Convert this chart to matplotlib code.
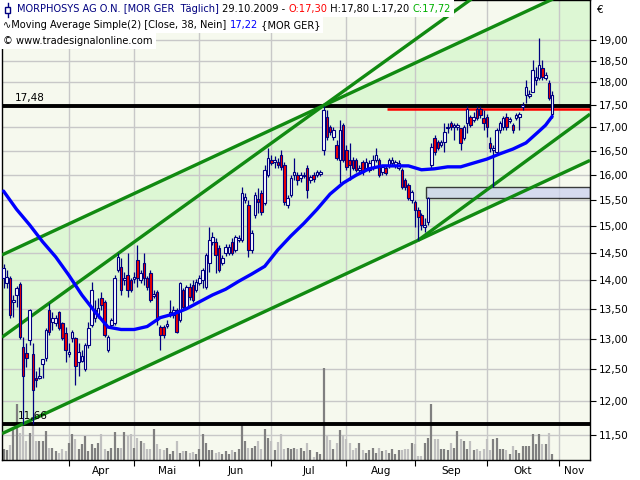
import matplotlib
matplotlib.use("Agg")
import matplotlib.pyplot as plt
import numpy as np
import pandas as pd
from matplotlib.patches import Rectangle
from matplotlib.lines import Line2D
from matplotlib.ticker import FixedLocator, NullLocator, FuncFormatter

plt.rcParams["font.family"] = ["DejaVu Sans"]

# trading days shown (Xetra, 2009)
holidays = ["2009-04-10", "2009-04-13", "2009-05-01"]
all_days = pd.bdate_range("2009-03-04", "2009-11-30").drop(pd.to_datetime(holidays))
n_days = 169  # 04.03.2009 .. 29.10.2009

opens = [
    14.04, 13.95, 14.04, 13.62, 13.74, 13.93, 12.86, 12.76, 12.97, 12.75,
    12.37, 12.37, 12.59, 12.69, 13.48, 13.28, 13.26, 13.45, 13.26, 13.09,
    12.75, 13.01, 13.01, 12.61, 12.64, 12.51, 12.89, 13.22, 13.35, 13.40,
    13.69, 13.62, 12.81, 13.22, 13.26, 14.18, 14.24, 14.00, 14.09, 14.00,
    14.02, 14.36, 14.00, 14.31, 14.04, 14.13, 13.72, 13.79, 13.19, 13.19,
    13.21, 13.41, 13.40, 13.48, 13.31, 13.83, 13.53, 13.88, 13.91, 13.83,
    13.95, 14.00, 13.88, 14.31, 14.70, 14.70, 14.58, 14.31, 14.49, 14.49,
    14.70, 14.55, 14.73, 14.73, 15.50, 15.40, 14.55, 15.21, 15.52, 15.64,
    15.44, 16.00, 16.31, 16.27, 16.27, 16.42, 16.21, 15.40, 15.60, 16.00,
    16.00, 15.94, 15.98, 16.15, 15.90, 16.00, 16.00, 16.02, 16.52, 17.23,
    17.01, 16.79, 16.63, 16.31, 17.05, 16.52, 16.31, 16.31, 16.31, 16.11,
    16.27, 16.15, 16.11, 16.17, 16.31, 16.31, 16.06, 16.15, 16.21, 16.25,
    16.21, 16.15, 16.11, 15.90, 15.80, 15.50, 15.46, 15.30, 15.21, 14.98,
    15.07, 16.21, 16.77, 16.69, 16.63, 16.69, 16.98, 17.10, 17.01, 17.01,
    16.98, 16.77, 17.10, 17.23, 17.16, 17.40, 17.40, 17.20, 17.23, 16.67,
    16.52, 16.48, 16.94, 17.01, 17.23, 17.14, 17.05, 17.20, 17.23, 17.45,
    17.71, 17.69, 17.78, 18.06, 18.10, 18.34, 18.10, 17.99, 17.30,
]
highs = [
    14.29, 14.18, 14.07, 13.74, 13.89, 13.96, 13.03, 12.92, 13.50, 12.92,
    12.48, 12.53, 12.67, 13.17, 13.60, 13.45, 13.40, 13.46, 13.28, 13.19,
    12.92, 13.14, 13.03, 12.92, 12.81, 12.92, 13.28, 13.96, 13.65, 13.69,
    13.79, 13.65, 13.06, 13.35, 14.09, 14.49, 14.40, 14.15, 14.49, 14.04,
    14.15, 14.64, 14.18, 14.49, 14.07, 14.18, 13.83, 13.83, 13.22, 13.22,
    13.31, 13.65, 13.55, 13.52, 13.96, 13.86, 13.91, 13.95, 14.00, 14.02,
    14.09, 14.22, 14.49, 14.98, 14.88, 14.77, 14.64, 14.46, 14.66, 14.66,
    14.77, 14.83, 14.83, 15.76, 15.64, 15.50, 14.92, 15.66, 15.74, 15.70,
    16.21, 16.57, 16.42, 16.40, 16.36, 16.52, 16.27, 15.60, 16.00, 16.36,
    16.06, 16.06, 16.06, 16.21, 16.00, 16.06, 16.11, 16.11, 17.48, 17.38,
    17.05, 17.01, 16.73, 17.16, 17.10, 16.63, 16.67, 16.38, 16.36, 16.21,
    16.31, 16.36, 16.31, 16.42, 16.57, 16.36, 16.21, 16.19, 16.36, 16.38,
    16.31, 16.31, 16.15, 15.94, 15.84, 15.70, 15.50, 15.36, 15.25, 15.15,
    15.56, 16.67, 16.84, 16.73, 16.73, 17.10, 17.10, 17.14, 17.10, 17.10,
    16.98, 17.05, 17.47, 17.27, 17.34, 17.47, 17.47, 17.38, 17.29, 16.79,
    16.63, 16.98, 17.14, 17.25, 17.31, 17.23, 17.10, 17.31, 17.34, 17.56,
    18.06, 17.83, 18.52, 18.36, 19.05, 18.52, 18.24, 18.06, 17.80,
]
lows = [
    13.86, 13.86, 13.35, 13.36, 13.54, 12.99, 11.66, 12.53, 12.89, 11.66,
    12.22, 12.35, 12.37, 12.64, 13.06, 13.14, 13.21, 13.14, 12.97, 12.61,
    12.70, 12.94, 12.25, 12.40, 12.61, 12.48, 12.84, 13.19, 13.28, 13.35,
    13.48, 13.03, 12.78, 13.19, 13.22, 14.15, 13.74, 13.91, 13.71, 13.79,
    13.95, 13.88, 13.95, 13.91, 13.83, 13.62, 13.69, 13.22, 12.81, 13.01,
    13.17, 13.36, 13.35, 13.09, 13.28, 13.48, 13.50, 13.65, 13.62, 13.79,
    13.91, 13.86, 13.84, 14.15, 14.64, 14.13, 14.15, 14.27, 14.44, 14.46,
    14.46, 14.51, 14.70, 14.70, 15.44, 14.42, 14.49, 15.15, 15.25, 15.21,
    15.40, 15.96, 16.21, 16.15, 16.15, 16.11, 15.40, 15.34, 15.56, 15.90,
    15.80, 15.86, 15.94, 15.54, 15.84, 15.86, 15.96, 15.98, 16.42, 16.73,
    16.84, 16.73, 16.31, 15.84, 16.27, 16.11, 15.90, 16.11, 16.06, 16.06,
    16.00, 16.11, 16.06, 16.11, 16.27, 15.96, 16.00, 16.00, 16.15, 16.21,
    16.15, 16.11, 15.72, 15.70, 15.50, 15.44, 14.98, 14.73, 14.92, 14.89,
    15.02, 16.15, 16.42, 16.52, 16.59, 16.48, 16.88, 16.94, 16.73, 16.94,
    16.52, 16.73, 16.88, 17.01, 17.12, 17.16, 17.20, 16.94, 16.79, 16.48,
    15.76, 16.42, 16.88, 16.94, 16.94, 17.10, 16.88, 17.16, 16.94, 17.38,
    17.54, 17.65, 17.78, 17.94, 18.06, 18.06, 18.06, 17.60, 17.20,
]
closes = [
    14.22, 14.05, 13.40, 13.65, 13.86, 13.03, 12.40, 12.68, 13.48, 12.17,
    12.33, 12.40, 12.66, 13.14, 13.10, 13.35, 13.35, 13.17, 13.01, 12.81,
    12.78, 13.10, 12.56, 12.78, 12.71, 12.89, 13.17, 13.83, 13.48, 13.52,
    13.57, 13.06, 13.03, 13.31, 14.04, 14.42, 13.83, 14.04, 13.83, 13.83,
    14.05, 14.04, 14.13, 14.04, 13.88, 13.65, 13.76, 13.31, 13.06, 13.06,
    13.24, 13.45, 13.48, 13.10, 13.95, 13.53, 13.88, 13.71, 13.65, 13.96,
    14.04, 14.18, 14.46, 14.73, 14.79, 14.46, 14.18, 14.40, 14.60, 14.60,
    14.49, 14.79, 14.77, 15.64, 15.56, 14.55, 14.87, 15.60, 15.46, 15.26,
    16.11, 16.36, 16.25, 16.31, 16.21, 16.17, 15.46, 15.54, 15.94, 16.06,
    15.90, 16.00, 16.00, 15.70, 15.96, 15.92, 16.06, 16.06, 17.38, 16.79,
    16.90, 16.94, 16.36, 16.94, 16.31, 16.17, 16.21, 16.15, 16.11, 16.15,
    16.06, 16.27, 16.25, 16.31, 16.42, 16.00, 16.17, 16.04, 16.31, 16.31,
    16.27, 16.25, 15.76, 15.76, 15.54, 15.66, 15.30, 15.17, 15.02, 15.02,
    15.54, 16.59, 16.48, 16.57, 16.69, 16.90, 17.01, 17.01, 17.05, 17.05,
    16.67, 17.01, 17.40, 17.05, 17.23, 17.20, 17.27, 17.10, 17.01, 16.57,
    16.57, 16.94, 17.10, 17.20, 17.01, 17.18, 16.94, 17.27, 17.29, 17.49,
    17.89, 17.73, 18.29, 18.12, 18.41, 18.12, 18.17, 17.65, 17.72,
]
# volume, thousand shares
volume = [
    110, 100, 150, 310, 560, 270, 370, 190, 270, 370,
    190, 190, 190, 290, 120, 120, 90, 70, 110, 90,
    170, 260, 210, 110, 160, 240, 90, 160, 120, 170,
    260, 110, 90, 120, 280, 120, 120, 280, 240, 260,
    120, 220, 190, 170, 110, 110, 310, 160, 110, 100,
    120, 60, 90, 190, 70, 90, 90, 70, 80, 60,
    110, 260, 170, 100, 100, 70, 80, 60, 90, 60,
    100, 80, 110, 360, 190, 120, 120, 140, 190, 110,
    310, 220, 190, 100, 180, 260, 110, 120, 110, 120,
    110, 120, 90, 170, 100, 30, 80, 60, 920, 240,
    200, 110, 170, 300, 250, 210, 170, 100, 120, 170,
    100, 70, 100, 120, 70, 120, 90, 100, 70, 110,
    60, 100, 100, 110, 110, 170, 160, 40, 40, 170,
    220, 560, 210, 210, 110, 110, 100, 170, 120, 290,
    210, 190, 110, 190, 100, 110, 90, 110, 210, 100,
    210, 220, 110, 110, 100, 60, 140, 100, 70, 140,
    140, 140, 260, 160, 260, 160, 160, 270, 60,
]

# Moving Average Simple(2) [Close, 38]
ma_idx = [0, 4, 8, 12, 16, 20, 24, 28, 32, 36, 40, 44, 48, 52, 56, 60, 64, 68,
          72, 76, 80, 84, 88, 92, 96, 100, 104, 108, 112, 116, 120, 124, 128,
          132, 136, 140, 144, 148, 152, 156, 160, 164, 166, 168]
ma_vals = [15.68, 15.32, 15.02, 14.70, 14.42, 14.09, 13.74, 13.45, 13.19, 13.15,
           13.15, 13.20, 13.35, 13.41, 13.50, 13.62, 13.74, 13.84, 13.98, 14.11,
           14.25, 14.55, 14.81, 15.05, 15.32, 15.62, 15.84, 16.00, 16.13, 16.19,
           16.19, 16.19, 16.11, 16.13, 16.17, 16.17, 16.25, 16.33, 16.44, 16.54,
           16.67, 16.92, 17.05, 17.24]

# drawing tools: (day index, price) anchors
trend_upper = [(0, 14.47), (98, 17.48)]
trend_lower = [(0, 11.53), (127, 14.73)]
trend_steep = [(0, 13.04), (98, 17.48)]
trend_steep2 = [(127, 14.73), (168, 16.69)]
level_high = 17.48
level_low = 11.66
level_red = 17.41
red_start = 118
gap_start = 130
gap_zone = (15.54, 15.76)

W, H = 640, 480
navy = "#000080"
xmin, xmax = -0.46, 179.6

fig = plt.figure(figsize=(6.4, 4.8), dpi=100)
fig.patch.set_facecolor("white")
ax = fig.add_axes([2 / W, 20 / H, 588 / W, 460 / H])
ax.set_facecolor("#f6f9ee")
ax.set_yscale("log")
ax.set_xlim(xmin, xmax)
ax.set_ylim(11.14, 19.99)


def extend(anchor, x0, x1):
    (xa, pa), (xb, pb) = anchor
    k = np.log(pb / pa) / (xb - xa)
    xs = np.array([x0, x1])
    return xs, pa * np.exp(k * (xs - xa))


# channel
xs, up = extend(trend_upper, xmin, xmax)
_, lo = extend(trend_lower, xmin, xmax)
ax.fill_between(xs, lo, up, color="#ddf7d4", lw=0, zorder=0.3)

# grid
month_starts = []
month_names = []
names = {4: "Apr", 5: "Mai", 6: "Jun", 7: "Jul", 8: "Aug", 9: "Sep", 10: "Okt", 11: "Nov"}
for m in range(4, 12):
    pos = int(np.argmax((all_days.month == m)))
    month_starts.append(pos)
    month_names.append(names[m])
label_pos = []
for k, s in enumerate(month_starts):
    e = month_starts[k + 1] if k + 1 < len(month_starts) else xmax
    label_pos.append((s + min(e, xmax)) / 2)

ax.set_axisbelow(True)
ax.set_xticks(month_starts)
ax.set_xticklabels([])
ax.set_xticks(label_pos, minor=True)
ax.set_xticklabels(month_names, minor=True)
ax.tick_params(axis="x", which="major", length=4, width=0.8, direction="out")
ax.tick_params(axis="x", which="minor", length=0, pad=4, labelsize=7.5)
ax.grid(True, which="major", color="#c8c8c8", lw=1.0)

ax.yaxis.set_major_locator(FixedLocator(np.arange(11.5, 19.01, 0.5)))
ax.yaxis.set_minor_locator(NullLocator())
ax.yaxis.set_major_formatter(FuncFormatter(lambda v, p: f"{v:.2f}".replace(".", ",")))
ax.yaxis.tick_right()
ax.tick_params(axis="y", which="major", length=4, width=0.8, pad=2, labelsize=7.5)
for sp in ax.spines.values():
    sp.set_color("black")
    sp.set_linewidth(1.0)

idx = np.arange(n_days)
o = np.array(opens)
h = np.array(highs)
l = np.array(lows)
c = np.array(closes)
v = np.array(volume)
up_day = c >= o

# volume at the bottom (axes fraction)
vol_top = v.max() * 5.0
ax.vlines(idx, 0, v / vol_top, transform=ax.get_xaxis_transform(),
          colors=np.where(up_day, "#808080", "#c0c0c0"), lw=1.6, zorder=1)

# levels and zones
ax.axhline(level_high, color="black", lw=2.8, zorder=2.2)
ax.axhline(level_low, color="black", lw=2.8, zorder=2.2)
ax.hlines(level_red, red_start - 0.5, xmax, color="red", lw=1.8, zorder=2.3)
ax.add_patch(Rectangle((gap_start - 0.5, gap_zone[0]), xmax - gap_start + 0.5,
                       gap_zone[1] - gap_zone[0], facecolor="#ccd2ee", alpha=0.75,
                       edgecolor="black", lw=1.0, zorder=2.0))
ax.annotate("17,48", xy=(0.022, level_high), xycoords=ax.get_yaxis_transform(),
            xytext=(0, 2), textcoords="offset points", fontsize=7.5, va="bottom")
ax.annotate("11,66", xy=(0.027, level_low), xycoords=ax.get_yaxis_transform(),
            xytext=(0, 2), textcoords="offset points", fontsize=7.5, va="bottom")

# trend lines
for anchor, x0 in [(trend_upper, xmin), (trend_lower, xmin), (trend_steep, xmin),
                   (trend_steep2, trend_steep2[0][0])]:
    lx, ly = extend(anchor, x0, xmax)
    ax.plot(lx, ly, color="#118a11", lw=2.4, zorder=2.6, solid_capstyle="butt")

# candles
ax.vlines(idx, l, h, colors=navy, lw=0.9, zorder=3)
ax.bar(idx, np.abs(c - o), bottom=np.minimum(o, c), width=0.78,
       color=np.where(up_day, "white", "#ee0000"), edgecolor=navy, lw=0.8, zorder=3.5)

# moving average
ax.plot(ma_idx, ma_vals, color="#0000ff", lw=2.4, zorder=4, solid_capstyle="round")

ax.set_xlim(xmin, xmax)
ax.set_ylim(11.14, 19.99)

# header
fig.canvas.draw()
renderer = fig.canvas.get_renderer()


def write_parts(x_px, y_px, parts, size=7.1):
    x = x_px
    for s, col in parts:
        t = fig.text(x / W, 1 - y_px / H, s, color=col, fontsize=size,
                     ha="left", va="center", zorder=6)
        x += t.get_window_extent(renderer).width
    return x


rows = [
    (17, 9, 0, 17, [("MORPHOSYS AG O.N. [MOR GER  Täglich]", navy), (" 29.10.2009 - ", "black"),
                    ("O:17,30", "red"), (" H:17,80 L:17,20 ", "black"), ("C:17,72", "#00b000")]),
    (3, 25, 17, 33, [("∿Moving Average Simple(2) [Close, 38, Nein] ", "black"),
                     ("17,22", "#0000ff"), (" {MOR GER}", "black")]),
    (3, 41, 33, 49, [("© www.tradesignalonline.com", "black")]),
]
for x0, yc, top, bot, parts in rows:
    end = write_parts(x0, yc, parts)
    fig.add_artist(Rectangle((0, 1 - bot / H), (end + 3) / W, (bot - top) / H,
                             transform=fig.transFigure, facecolor="white",
                             edgecolor="none", zorder=5))

fig.add_artist(Line2D([7.5 / W, 7.5 / W], [1 - 3 / H, 1 - 17 / H], transform=fig.transFigure,
                      color=navy, lw=1.0, zorder=7))
fig.add_artist(Rectangle((5 / W, 1 - 13 / H), 5 / W, 6 / H, transform=fig.transFigure,
                         facecolor="white", edgecolor=navy, lw=1.0, zorder=8))
fig.text(597 / W, 1 - 10 / H, "€", fontsize=7.5, va="center", ha="left")

fig.savefig("out.png", dpi=100)
